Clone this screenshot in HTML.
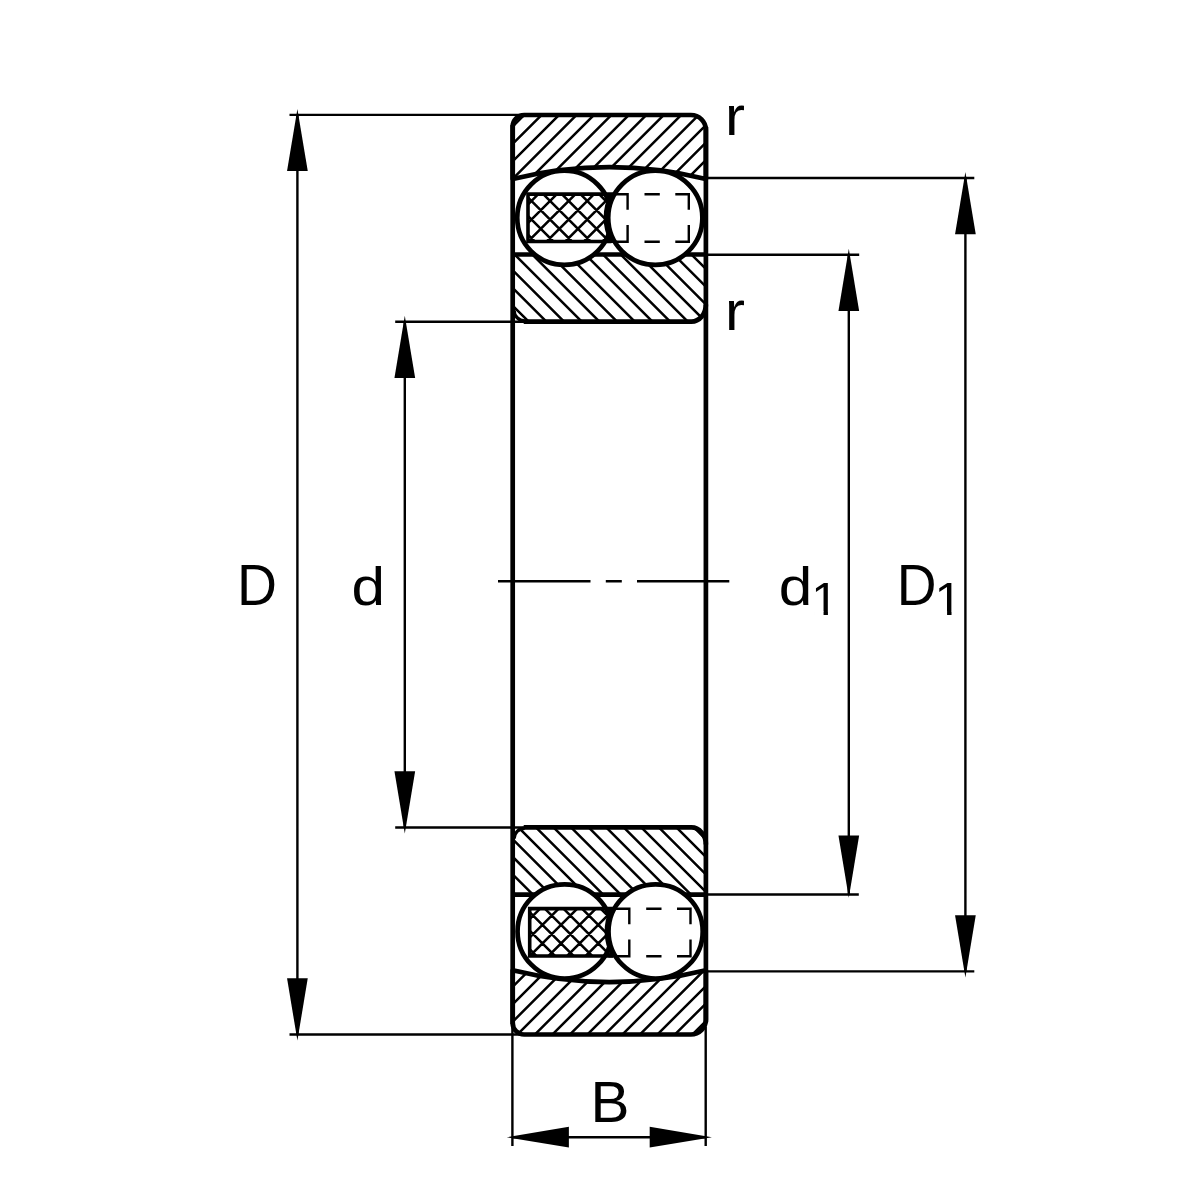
<!DOCTYPE html>
<html lang="en">
<head>
<meta charset="utf-8">
<title>Self-aligning ball bearing – dimension drawing</title>
<style>
html,body{margin:0;padding:0;background:#fff;}
body{width:1200px;height:1200px;overflow:hidden;}
svg{display:block;}
.k{fill:none;stroke:#000;stroke-width:4.7;stroke-linejoin:round;stroke-linecap:butt;}
.b{fill:#fff;stroke:#000;stroke-width:4.7;}
.c{fill:none;stroke:#000;stroke-width:3.6;stroke-linejoin:miter;}
.t{fill:none;stroke:#000;stroke-width:2.4;}
.h{fill:none;stroke:#000;stroke-width:2.5;}
.x{fill:none;stroke:#000;stroke-width:2.5;}
.tx text{font-family:"Liberation Sans",sans-serif;font-size:50px;fill:#000;}
</style>
</head>
<body>
<svg width="1200" height="1200" viewBox="0 0 1200 1200">
<rect width="1200" height="1200" fill="#fff"/>
<clipPath id="ao"><path d="M512.7 178.92 L512.7 126.5 A11.5 11.5 0 0 1 524.2 115 L690.9 115 A15 15 0 0 1 705.9 130 L705.9 178.92 A407.3 407.3 0 0 0 512.7 178.92Z"/></clipPath>
<clipPath id="ai"><path d="M512.7 254.5 L705.9 254.5 L705.9 307.1 A14.5 14.5 0 0 1 691.4 321.6 L523.7 321.6 A11 11 0 0 1 512.7 310.6Z"/></clipPath>
<path class="h" clip-path="url(#ao)" d="M421.33 182.92L491.25 113M438.78 182.92L508.7 113M456.23 182.92L526.15 113M473.68 182.92L543.6 113M491.13 182.92L561.05 113M508.58 182.92L578.5 113M526.03 182.92L595.95 113M543.48 182.92L613.4 113M560.93 182.92L630.85 113M578.38 182.92L648.3 113M595.83 182.92L665.75 113M613.28 182.92L683.2 113M630.73 182.92L700.65 113M648.18 182.92L718.1 113M665.63 182.92L735.55 113M683.08 182.92L753 113M700.53 182.92L770.45 113M717.98 182.92L787.9 113M735.43 182.92L805.35 113"/>
<path class="h" clip-path="url(#ai)" d="M406.54 252.5L477.64 323.6M424.22 252.5L495.32 323.6M441.9 252.5L513 323.6M459.58 252.5L530.68 323.6M477.26 252.5L548.36 323.6M494.94 252.5L566.04 323.6M512.62 252.5L583.72 323.6M530.3 252.5L601.4 323.6M547.98 252.5L619.08 323.6M565.66 252.5L636.76 323.6M583.34 252.5L654.44 323.6M601.02 252.5L672.12 323.6M618.7 252.5L689.8 323.6M636.38 252.5L707.48 323.6M654.06 252.5L725.16 323.6M671.74 252.5L742.84 323.6M689.42 252.5L760.52 323.6M707.1 252.5L778.2 323.6M724.78 252.5L795.88 323.6"/>
<path class="k" d="M512.7 178.92 L512.7 126.5 A11.5 11.5 0 0 1 524.2 115 L690.9 115 A15 15 0 0 1 705.9 130 L705.9 178.92 A407.3 407.3 0 0 0 512.7 178.92Z"/>
<path class="k" d="M512.7 254.5H705.9"/>
<path class="k" d="M705.9 304.6 A14.5 17 0 0 1 691.4 321.6 L523.7 321.6"/>
<path class="k" style="stroke-width:3.3" d="M524.7 320.8 A10.5 10.5 0 0 1 514.1 310.2"/>
<circle class="b" cx="564.35" cy="217.8" r="47.1"/>
<clipPath id="ac"><rect x="528" y="194.1" width="127.3" height="47.4"/></clipPath>
<path class="x" clip-path="url(#ac)" d="M453.7 241.5L501.1 194.1M472.3 241.5L519.7 194.1M490.9 241.5L538.3 194.1M509.5 241.5L556.9 194.1M528.1 241.5L575.5 194.1M546.7 241.5L594.1 194.1M565.3 241.5L612.7 194.1M583.9 241.5L631.3 194.1M602.5 241.5L649.9 194.1M621.1 241.5L668.5 194.1M639.7 241.5L687.1 194.1M658.3 241.5L705.7 194.1M676.9 241.5L724.3 194.1M450.2 194.1L497.6 241.5M468.8 194.1L516.2 241.5M487.4 194.1L534.8 241.5M506 194.1L553.4 241.5M524.6 194.1L572 241.5M543.2 194.1L590.6 241.5M561.8 194.1L609.2 241.5M580.4 194.1L627.8 241.5M599 194.1L646.4 241.5M617.6 194.1L665 241.5M636.2 194.1L683.6 241.5M654.8 194.1L702.2 241.5M673.4 194.1L720.8 241.5M692 194.1L739.4 241.5"/>
<path class="c" d="M611.39 241.5A49.9 49.9 0 0 1 611.39 194.1H528V241.5H611.39"/>
<circle class="b" cx="655.3" cy="217.8" r="47.1"/>
<path class="t" d="M608.2 194.25H628.7M644.5 194.25H659.8M675.3 194.25H688.8M608.2 241.8H628.7M644.5 241.8H659.8M675.3 241.8H688.8M627.6 193.05V209.75M627.6 225V243M688.8 193.05V209.75M688.8 225V243"/>
<clipPath id="bo"><path d="M512.7 970.28 L512.7 1023 A11.5 11.5 0 0 0 524.2 1034.5 L690.9 1034.5 A15 15 0 0 0 705.9 1019.5 L705.9 970.28 A407.3 407.3 0 0 1 512.7 970.28Z"/></clipPath>
<clipPath id="bi"><path d="M512.7 894.55 L705.9 894.55 L705.9 841.95 A14.5 14.5 0 0 0 691.4 827.45 L523.7 827.45 A11 11 0 0 0 512.7 838.45Z"/></clipPath>
<path class="h" clip-path="url(#bo)" d="M410.4 1036.5L480.32 966.58M427.9 1036.5L497.82 966.58M445.4 1036.5L515.32 966.58M462.9 1036.5L532.82 966.58M480.4 1036.5L550.32 966.58M497.9 1036.5L567.82 966.58M515.4 1036.5L585.32 966.58M532.9 1036.5L602.82 966.58M550.4 1036.5L620.32 966.58M567.9 1036.5L637.82 966.58M585.4 1036.5L655.32 966.58M602.9 1036.5L672.82 966.58M620.4 1036.5L690.32 966.58M637.9 1036.5L707.82 966.58M655.4 1036.5L725.32 966.58M672.9 1036.5L742.82 966.58M690.4 1036.5L760.32 966.58M707.9 1036.5L777.82 966.58M725.4 1036.5L795.32 966.58"/>
<path class="h" clip-path="url(#bi)" d="M411.09 825.45L482.19 896.55M428.65 825.45L499.75 896.55M446.21 825.45L517.31 896.55M463.77 825.45L534.87 896.55M481.33 825.45L552.43 896.55M498.89 825.45L569.99 896.55M516.45 825.45L587.55 896.55M534.01 825.45L605.11 896.55M551.57 825.45L622.67 896.55M569.13 825.45L640.23 896.55M586.69 825.45L657.79 896.55M604.25 825.45L675.35 896.55M621.81 825.45L692.91 896.55M639.37 825.45L710.47 896.55M656.93 825.45L728.03 896.55M674.49 825.45L745.59 896.55M692.05 825.45L763.15 896.55M709.61 825.45L780.71 896.55M727.17 825.45L798.27 896.55"/>
<path class="k" d="M512.7 970.28 L512.7 1023 A11.5 11.5 0 0 0 524.2 1034.5 L690.9 1034.5 A15 15 0 0 0 705.9 1019.5 L705.9 970.28 A407.3 407.3 0 0 1 512.7 970.28Z"/>
<path class="k" d="M512.7 894.55H705.9"/>
<path class="k" d="M705.9 844.45 A14.5 17 0 0 0 691.4 827.45 L523.7 827.45"/>
<path class="k" style="stroke-width:3.3" d="M524.7 828.25 A10.5 10.5 0 0 0 514.1 838.85"/>
<circle class="b" cx="564.65" cy="931.4" r="47.1"/>
<clipPath id="bc"><rect x="529.7" y="908.6" width="125.9" height="47.4"/></clipPath>
<path class="x" clip-path="url(#bc)" d="M455.5 956L502.9 908.6M474.1 956L521.5 908.6M492.7 956L540.1 908.6M511.3 956L558.7 908.6M529.9 956L577.3 908.6M548.5 956L595.9 908.6M567.1 956L614.5 908.6M585.7 956L633.1 908.6M604.3 956L651.7 908.6M622.9 956L670.3 908.6M641.5 956L688.9 908.6M660.1 956L707.5 908.6M678.7 956L726.1 908.6M451.8 908.6L499.2 956M470.4 908.6L517.8 956M489 908.6L536.4 956M507.6 908.6L555 956M526.2 908.6L573.6 956M544.8 908.6L592.2 956M563.4 908.6L610.8 956M582 908.6L629.4 956M600.6 908.6L648 956M619.2 908.6L666.6 956M637.8 908.6L685.2 956M656.4 908.6L703.8 956M675 908.6L722.4 956"/>
<path class="c" d="M612.99 956A49.2 49.2 0 0 1 612 908.6H529.7V956H612.99"/>
<circle class="b" cx="655.6" cy="931.4" r="47.1"/>
<path class="t" d="M608.5 908.75H630.4M646.2 908.75H661.5M677 908.75H690.5M608.5 956.3H630.4M646.2 956.3H661.5M677 956.3H690.5M629.3 907.55V924.25M629.3 939.5V957.5M690.5 907.55V924.25M690.5 939.5V957.5"/>
<path class="k" d="M512.7 125V1024.2 M705.9 127V1022.2"/>
<path class="t" d="M498 581.2H590.5M605.8 581.2H621.8M637 581.2H729.3 M289.5 114.9H524.7 M289.5 1034.5H524.7 M297.4 115V1034.5 M395.2 321.7H524.7 M395.2 827.45H524.7 M404.8 321.7V827.45 M705.9 254.8H859.2 M705.9 894.5H858.8 M848.8 254.8V894.5 M705.9 178H974.3 M705.9 971.4H974.3 M965.4 178V971.4 M512.4 1026.5V1146 M705.7 1026.5V1146 M512.7 1137.2H705.9"/>
<g fill="#000"><polygon points="297.4,108.9 287.05,171.1 307.75,171.1"/><polygon points="297.4,1040.5 287.05,978.3 307.75,978.3"/><polygon points="404.8,315.7 394.45,377.9 415.15,377.9"/><polygon points="404.8,833.45 394.45,771.25 415.15,771.25"/><polygon points="848.8,248.8 838.45,311 859.15,311"/><polygon points="848.8,897.8 838.45,835.6 859.15,835.6"/><polygon points="965.4,172 955.05,234.2 975.75,234.2"/><polygon points="965.4,977.4 955.05,915.2 975.75,915.2"/><polygon points="506.7,1137.2 568.9,1126.85 568.9,1147.55"/><polygon points="711.9,1137.2 649.7,1126.85 649.7,1147.55"/></g>
<g class="tx" opacity="0.999">
<text transform="matrix(1.1076 0 0 1.1425 236.96 604.5)">D</text>
<text transform="matrix(1.2052 0 0 1.0812 351.47 604.57)">d</text>
<text transform="matrix(1.2052 0 0 1.0866 778.77 604.67)">d</text>
<text transform="matrix(0.9768 0 0 0.9157 811.3 614.7)">1</text>
<path transform="matrix(0.9768 0 0 0.9157 811.3 614.7)" fill="#fff" d="M2.93 -4.15H12.55V2H2.93ZM17.02 -4.15H26.37V2H17.02Z"/>
<text transform="matrix(1.1008 0 0 1.1425 896.68 604.6)">D</text>
<text transform="matrix(0.9932 0 0 0.9157 934.62 614.8)">1</text>
<path transform="matrix(0.9932 0 0 0.9157 934.62 614.8)" fill="#fff" d="M2.93 -4.15H12.55V2H2.93ZM17.02 -4.15H26.37V2H17.02Z"/>
<text transform="matrix(1.2000 0 0 1.0928 724.92 134.6)">r</text>
<text transform="matrix(1.2000 0 0 1.0928 724.92 329.6)">r</text>
<text transform="matrix(1.1687 0 0 1.1337 590.51 1122.1)">B</text>
</g>
</svg>
</body>
</html>
